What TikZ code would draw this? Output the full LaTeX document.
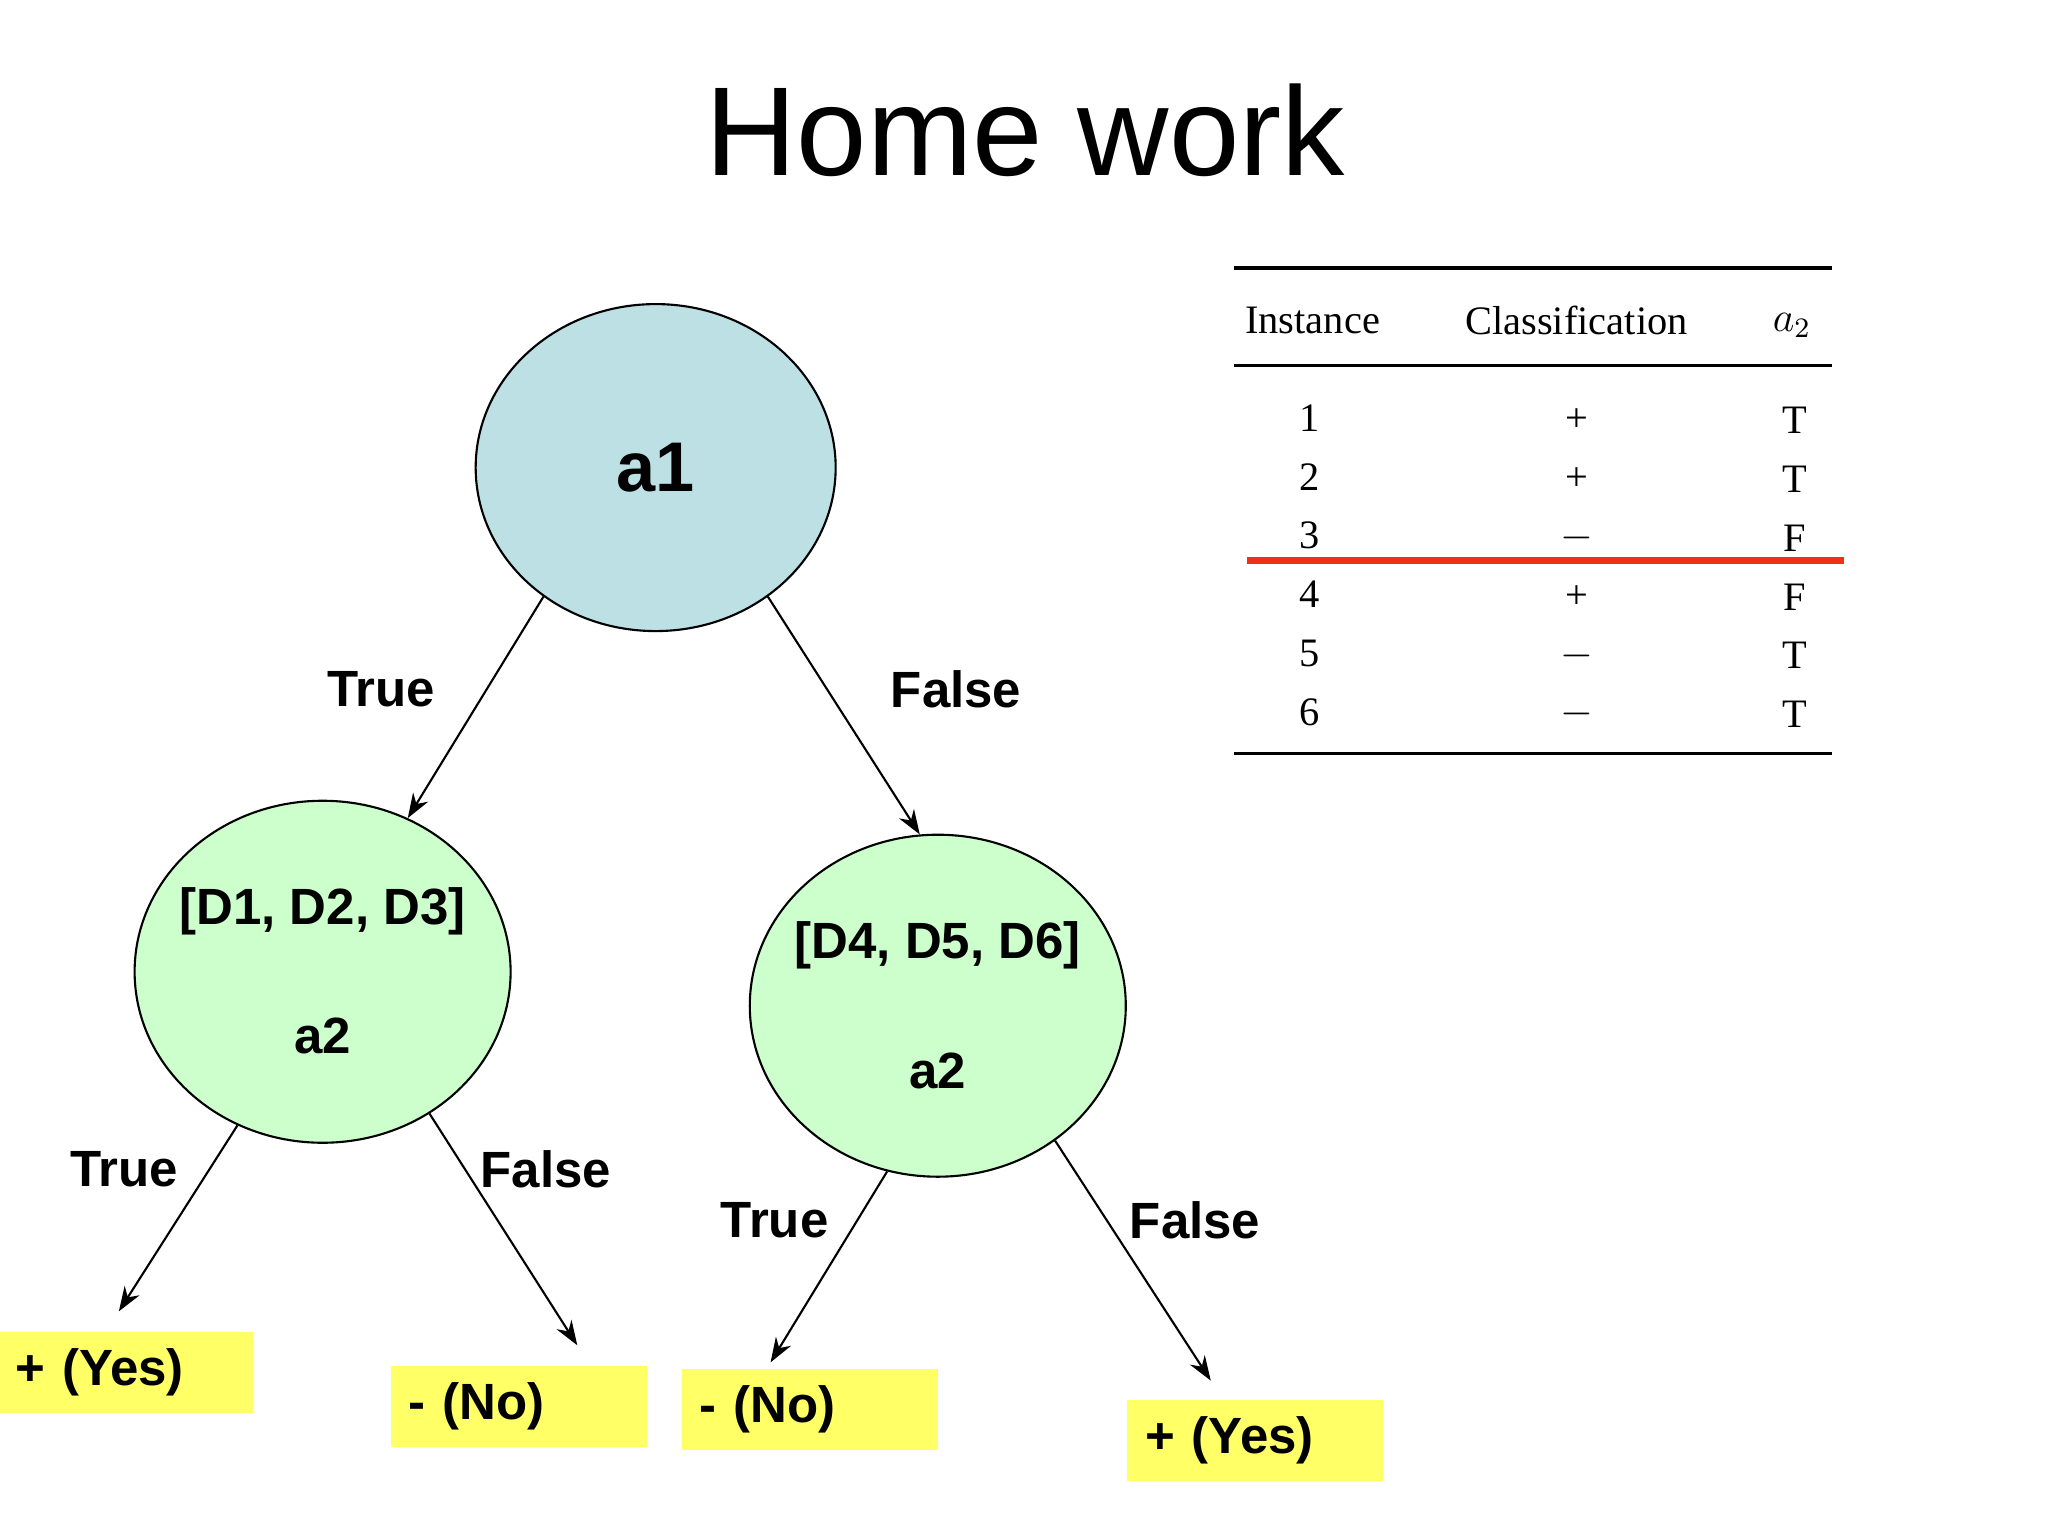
\documentclass[tikz,border=0pt]{standalone}
\usepackage{fontspec}
\setmainfont{Liberation Sans}
\newfontfamily\tabfont{Liberation Serif}
\usetikzlibrary{shapes.geometric,arrows.meta}
\definecolor{rootblue}{RGB}{188,224,228}
\definecolor{leafgreen}{RGB}{204,255,204}
\definecolor{boxyellow}{RGB}{255,255,102}
\definecolor{cutred}{RGB}{240,50,20}
\begin{document}
\begin{tikzpicture}[x=0.01306cm,y=-0.01306cm,
    every node/.style={inner sep=0pt},
    treenode/.style={draw=black,ellipse,line width=0.6pt},
    edge/.style={line width=0.6pt,-{Stealth[length=7pt,width=5pt]}},
    lab/.style={font=\fontsize{14.5}{16}\selectfont\bfseries},
    leaf/.style={fill=boxyellow,minimum width=2.56cm,minimum height=0.81cm,
      text width=2.2cm,align=left,font=\fontsize{14.5}{16}\selectfont\bfseries},
    tab/.style={font=\tabfont\fontsize{11.5}{13}\selectfont}]
  \useasboundingbox (0,0) rectangle (1568,1174);
  \fill[white] (0,0) rectangle (1568,1174);
  % title
  \node (title) at (785,100) {\fontsize{36}{40}\selectfont Home work};
  % tree
  \node[treenode,fill=rootblue,minimum width=3.60cm,minimum height=3.27cm] (a1) at (502,358)
    {\fontsize{20}{24}\selectfont\bfseries a1};
  \node[treenode,fill=leafgreen,minimum width=3.76cm,minimum height=3.42cm] (left) at (247,744) {};
  \node[lab] at (247,698) {[D1, D2, D3]};
  \node[lab] at (247,793) {a2};
  \node[treenode,fill=leafgreen,minimum width=3.76cm,minimum height=3.42cm] (right) at (718,770) {};
  \node[lab] at (718,724) {[D4, D5, D6]};
  \node[lab] at (718,820) {a2};
  \draw[edge] (a1.229) -- (left.61);
  \draw[edge] (a1.311) -- (right.96);
  \node[lab] at (292,528) {True};
  \node[lab] at (732,528) {False};
  % leaves
  \node[leaf] (yes1) at (96,1051) {+ (Yes)};
  \node[leaf] (no1) at (397,1077) {- (No)};
  \node[leaf] (no2) at (620,1079) {- (No)};
  \node[leaf] (yes2) at (961,1103) {+ (Yes)};
  \coordinate (e1) at (91,1004);
  \coordinate (e2) at (442,1030);
  \coordinate (e3) at (590,1043);
  \coordinate (e4) at (927,1057);
  \draw[edge] (left.241) -- (e1);
  \draw[edge] (left.307) -- (e2);
  \draw[edge] (right.253) -- (e3);
  \draw[edge] (right.311) -- (e4);
  \node[lab] at (95,895) {True};
  \node[lab] at (418,895) {False};
  \node[lab] at (593,934) {True};
  \node[lab] at (915,934) {False};
  % table
  \draw[line width=1pt] (945,205) -- (1403,205);
  \draw[line width=1pt] (945,280) -- (1403,280);
  \draw[line width=1pt] (945,577) -- (1403,577);
  \node[tab] at (1005,245) {Instance};
  \node[tab] at (1207,245) {Classification};
  \node[tab] at (1372,249) {$a_2$};
  \foreach \n/\c/\v [count=\i from 0] in {1/+/T,2/+/T,3/$-$/F,4/+/F,5/$-$/T,6/$-$/T}{
    \node[tab] at (1003,320+45*\i) {\n};
    \node[tab] at (1207,322+45*\i) {\c};
    \node[tab] at (1374,322+45*\i) {\v};
  }
  \draw[cutred,line width=2pt] (955,429) -- (1412,429);
\end{tikzpicture}
\end{document}
